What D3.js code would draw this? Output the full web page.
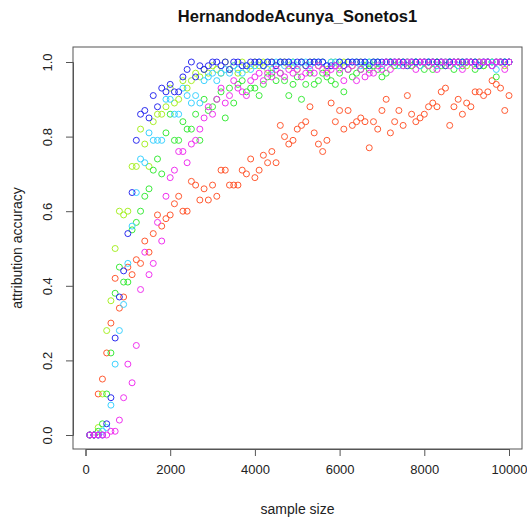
<!DOCTYPE html>
<html><head><meta charset="utf-8">
<script src="https://cdn.jsdelivr.net/npm/d3@7"></script>
<style>html,body{margin:0;padding:0;background:#fff;}svg{display:block;font-family:"Liberation Sans",Arial,sans-serif;}</style>
</head><body>
<script>
const title = "HernandodeAcunya_Sonetos1";
const xLabel = "sample size";
const yLabel = "attribution accuracy";
const xTicks = [0, 2000, 4000, 6000, 8000, 10000];
const yTicks = [0.0, 0.2, 0.4, 0.6, 0.8, 1.0];
const sampleSizes = [100,200,300,400,500,600,700,800,900,1000,1100,1200,1300,1400,1500,1600,1700,1800,1900,2000,
2100,2200,2300,2400,2500,2600,2700,2800,2900,3000,3100,3200,3300,3400,3500,3600,3700,3800,3900,4000,
4100,4200,4300,4400,4500,4600,4700,4800,4900,5000,5100,5200,5300,5400,5500,5600,5700,5800,5900,6000,
6100,6200,6300,6400,6500,6600,6700,6800,6900,7000,7100,7200,7300,7400,7500,7600,7700,7800,7900,8000,
8100,8200,8300,8400,8500,8600,8700,8800,8900,9000,9100,9200,9300,9400,9500,9600,9700,9800,9900,10000];

const seriesNames = ["red","yellowgreen","green","cyan","blue","magenta"];
const seriesColors = ["#FF5A32","#A8F028","#3CEB3C","#3CD2FF","#2D2DF0","#F032F0"];

const red = [0,0,0.11,0.15,0.22,0.30,0.42,0.34,0.37,0.45, 0.43,0.47,0.46,0.52,0.49,0.54,0.59,0.56,0.58,0.59,
0.62,0.64,0.60,0.60,0.68,0.67,0.63,0.66,0.63,0.67, 0.64,0.71,0.71,0.67,0.67,0.67,0.71,0.70,0.74,0.69,
0.71,0.75,0.73,0.76,0.73,0.83,0.80,0.78,0.79,0.82, 0.83,0.84,0.88,0.81,0.78,0.76,0.79,0.89,0.84,0.87,
0.82,0.87,0.83,0.84,0.85,0.84,0.77,0.84,0.82,0.87, 0.90,0.81,0.84,0.87,0.83,0.91,0.86,0.84,0.85,0.86,
0.88,0.89,0.88,0.92,0.93,0.83,0.88,0.90,0.86,0.89, 0.88,0.92,0.92,0.91,0.92,0.95,0.94,0.93,0.87,0.91];

const yellowgreen = [0,0,0.02,0.11,0.28,0.36,0.50,0.60,0.59,0.60, 0.72,0.72,0.82,0.78,0.72,0.84,0.86,0.86,0.88,0.93,
0.89,0.90,0.95,0.93,0.95,0.97,0.96,0.98,0.97,0.99, 0.98,0.97,1.0,0.98,0.99,0.97,1.0,0.98,0.99,1.0,
0.99,1.0,0.98,1.0,0.99,1.0,1.0,0.99,1.0,0.98, 1.0,0.99,1.0,1.0,0.99,1.0,0.98,1.0,1.0,0.99,
1.0,1.0,0.99,1.0,1.0,0.99,1.0,1.0,1.0,0.99, 1.0,1.0,0.99,1.0,1.0,1.0,0.99,1.0,1.0,1.0,
0.99,1.0,1.0,1.0,0.99,1.0,1.0,1.0,1.0,0.99, 1.0,1.0,1.0,0.99,1.0,1.0,1.0,1.0,0.99,1.0];

const green = [0,0,0.01,0.03,0.11,0.22,0.38,0.45,0.41,0.41, 0.55,0.57,0.60,0.64,0.66,0.71,0.74,0.70,0.81,0.86,
0.79,0.79,0.84,0.82,0.82,0.86,0.79,0.90,0.87,0.88, 0.90,0.92,0.85,0.93,0.89,0.94,0.95,0.92,0.93,0.93,
0.91,0.94,0.96,0.97,0.95,0.97,0.95,0.91,0.94,0.96, 0.90,0.94,0.97,0.94,0.95,0.97,0.96,0.95,0.94,0.97,
0.92,0.98,0.96,0.97,0.98,0.99,0.98,0.99,0.98,0.96, 0.97,1.0,0.99,1.0,0.99,1.0,0.99,1.0,0.99,0.98,
1.0,0.98,1.0,0.99,1.0,1.0,0.98,1.0,0.99,1.0, 1.0,0.98,1.0,0.99,1.0,1.0,0.96,1.0,1.0,1.0];

const cyan = [0,0,0,0.01,0.02,0.08,0.19,0.28,0.35,0.46, 0.56,0.65,0.74,0.73,0.81,0.79,0.79,0.79,0.90,0.90,
0.86,0.86,0.93,0.91,0.89,0.91,0.89,0.95,0.96,0.97, 0.95,0.97,0.98,0.97,0.99,0.98,0.97,0.99,0.98,0.99,
1.0,0.99,1.0,0.98,1.0,1.0,0.99,1.0,1.0,0.99, 1.0,1.0,0.99,1.0,1.0,1.0,0.99,1.0,1.0,1.0,
0.99,1.0,1.0,1.0,0.99,1.0,1.0,1.0,1.0,0.99, 1.0,1.0,1.0,0.99,1.0,1.0,1.0,1.0,0.99,1.0,
1.0,1.0,0.99,1.0,1.0,1.0,1.0,0.99,1.0,1.0, 1.0,1.0,0.99,1.0,1.0,1.0,0.98,1.0,1.0,1.0];

const blue = [0,0,0,0,0.03,0.10,0.26,0.37,0.44,0.54, 0.65,0.79,0.86,0.87,0.85,0.91,0.88,0.93,0.92,0.94,
0.92,0.92,0.96,0.98,1.0,0.96,0.99,0.98,0.99,1.0, 1.0,0.99,1.0,0.98,1.0,1.0,0.99,0.99,1.0,1.0,
1.0,0.99,1.0,1.0,0.99,1.0,1.0,1.0,0.99,1.0, 1.0,0.99,1.0,1.0,1.0,1.0,0.99,0.99,0.99,1.0,
0.99,1.0,1.0,1.0,1.0,1.0,0.99,1.0,1.0,1.0, 1.0,1.0,1.0,1.0,1.0,0.99,1.0,1.0,1.0,1.0,
1.0,1.0,1.0,1.0,0.99,1.0,1.0,1.0,1.0,1.0, 1.0,1.0,0.99,1.0,1.0,0.99,1.0,1.0,1.0,1.0];

const magenta = [0,0,0,0,0,0.01,0.01,0.04,0.10,0.19, 0.14,0.24,0.39,0.49,0.43,0.46,0.57,0.52,0.64,0.69,
0.71,0.76,0.76,0.73,0.78,0.79,0.82,0.85,0.88,0.86, 0.90,0.93,0.89,0.91,0.95,0.93,0.92,0.91,0.95,0.96,
0.97,0.95,0.97,0.96,0.98,0.97,0.96,0.98,0.97,0.98, 0.96,0.97,0.98,0.97,0.99,0.98,0.97,0.98,0.99,0.98,
0.95,0.98,0.99,0.95,0.98,0.96,0.97,0.97,0.99,0.98, 1.0,0.98,1.0,1.0,0.99,1.0,1.0,0.98,1.0,1.0,
0.99,1.0,0.98,1.0,1.0,0.99,1.0,1.0,0.98,1.0, 1.0,0.99,1.0,1.0,1.0,0.99,1.0,1.0,0.98,1.0];

const seriesValues = [red, yellowgreen, green, cyan, blue, magenta];

const W = 527, H = 519;
const box = {left: 73, right: 522, top: 47, bottom: 449};
const svg = d3.select("body").append("svg").attr("width", W).attr("height", H);

const x = d3.scaleLinear().domain([0, 10000]).range([85.5, 509]);
const y = d3.scaleLinear().domain([0, 1]).range([435, 62]);

// points
seriesValues.forEach((vals, si) => {
  svg.append("g").selectAll("circle")
    .data(vals.map((v, i) => ({x: sampleSizes[i], y: v})))
    .join("circle")
    .attr("cx", d => x(d.x))
    .attr("cy", d => y(d.y))
    .attr("r", 3)
    .attr("fill", "none")
    .attr("stroke", seriesColors[si])
    .attr("stroke-width", 1);
});

// box
svg.append("rect").attr("x", box.left).attr("y", box.top)
  .attr("width", box.right - box.left).attr("height", box.bottom - box.top)
  .attr("fill", "none").attr("stroke", "#555").attr("stroke-width", 1);

// x axis
const xAxis = d3.axisBottom(x).tickValues(xTicks).tickSize(7).tickPadding(9).tickFormat(d3.format("d"));
const gx = svg.append("g").attr("transform", `translate(0,${box.bottom})`).call(xAxis);
gx.select(".domain").attr("stroke", "#555");
gx.selectAll(".tick line").attr("stroke", "#555");
gx.selectAll(".tick text").attr("font-size", 13).attr("fill", "#222").attr("font-family", "Liberation Sans, Arial, sans-serif");

// y axis
const yAxis = d3.axisLeft(y).tickValues(yTicks).tickSize(7).tickPadding(0).tickFormat(d3.format(".1f"));
const gy = svg.append("g").attr("transform", `translate(${box.left},0)`).call(yAxis);
gy.select(".domain").attr("stroke", "#555");
gy.selectAll(".tick line").attr("stroke", "#555");
gy.selectAll(".tick text")
  .attr("font-size", 13).attr("fill", "#222").attr("font-family", "Liberation Sans, Arial, sans-serif")
  .attr("text-anchor", "middle").attr("dy", null)
  .attr("x", null)
  .attr("transform", "translate(-24,0) rotate(-90)")
  .attr("dominant-baseline", "middle");

// title and labels
svg.append("text").attr("x", (box.left + box.right) / 2).attr("y", 22)
  .attr("text-anchor", "middle").attr("font-weight", "bold").attr("font-size", 16.5)
  .attr("fill", "#111").text(title);
svg.append("text").attr("x", (box.left + box.right) / 2).attr("y", 514)
  .attr("text-anchor", "middle").attr("font-size", 14).attr("fill", "#222").text(xLabel);
svg.append("text").attr("transform", `translate(22,${(box.top + box.bottom) / 2}) rotate(-90)`)
  .attr("text-anchor", "middle").attr("font-size", 14).attr("fill", "#222").text(yLabel);
</script>
</body></html>
